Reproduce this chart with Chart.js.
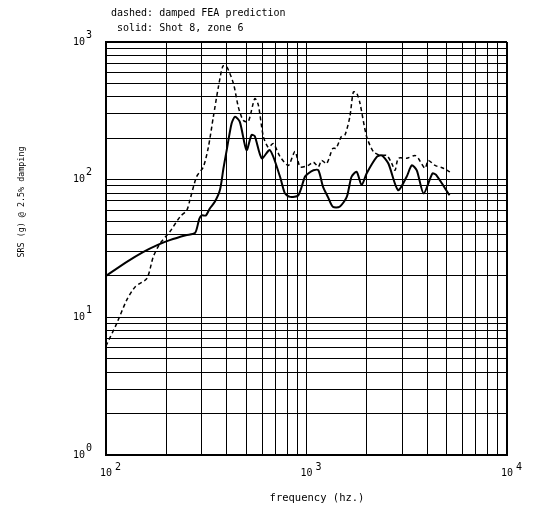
<!DOCTYPE html>
<html>
<head>
<meta charset="utf-8">
<script src="https://cdn.jsdelivr.net/npm/chart.js@4.4.0/dist/chart.umd.min.js"></script>
<style>
  html, body { margin: 0; padding: 0; background: #fff; }
  #wrap { width: 533px; height: 506px; position: relative; }
</style>
</head>
<body>
<div id="wrap"><canvas id="srsChart"></canvas></div>
<script>
// ====== data (frequency in Hz, SRS in g) ======
const SOLID_FREQ = [100, 127, 153, 180, 208, 250, 278, 292, 300, 315, 330, 349, 370, 385, 400, 423, 440, 465, 502, 532, 552, 598, 657, 738, 781, 829, 910, 982, 1020, 1083, 1146, 1208, 1278, 1353, 1463, 1588, 1677, 1778, 1884, 1994, 2247, 2376, 2561, 2860, 3158, 3349, 3548, 3838, 4246, 4420, 5170];
const SOLID_SRS  = [20, 25.3, 29.8, 33.5, 36.4, 39.5, 41, 52, 55, 55, 62, 69, 84, 120, 164, 256, 286, 263, 164, 211, 207, 143, 164, 105, 79.5, 75, 77, 105, 111, 117, 117, 89, 75, 63.6, 63.6, 75, 105, 114, 91.5, 111, 147, 150, 131, 84, 105, 127, 117, 79.5, 111, 108.6, 77];

const DASHED_FREQ = [100, 113, 127, 140, 160, 172, 186, 208, 234, 253, 262, 283, 306, 324, 343, 364, 383, 400, 432, 457, 483, 512, 552, 575, 609, 645, 683, 738, 812, 876, 930, 1020, 1083, 1146, 1190, 1260, 1353, 1405, 1494, 1555, 1645, 1713, 1778, 1848, 1994, 2154, 2327, 2515, 2664, 2765, 2872, 3158, 3474, 3608, 3899, 4052, 4375, 4812, 5190];
const DASHED_SRS  = [6.2, 9.0, 13.4, 16.7, 19.2, 27.5, 34.4, 41.8, 53.8, 60, 71, 105, 124, 172, 286, 476, 670, 661, 500, 338, 270, 263, 388, 349, 206, 172, 183, 147, 127, 160, 124, 127, 134, 124, 138, 131, 169, 169, 206, 211, 286, 434, 427, 359, 206, 160, 150, 150, 131, 117, 143, 143, 150, 143, 121, 138, 127, 121, 114];

// grid lines and tick labels (base "10" plus exponent)
const X_GRID = [100, 200, 300, 400, 500, 600, 700, 800, 900, 1000, 2000, 3000, 4000, 5000, 6000, 7000, 8000, 9000, 10000];
const Y_GRID = [1, 2, 3, 4, 5, 6, 7, 8, 9, 10, 20, 30, 40, 50, 60, 70, 80, 90, 100, 200, 300, 400, 500, 600, 700, 800, 900, 1000];
const X_EXP = { 100: '2', 1000: '3', 10000: '4' };
const Y_EXP = { 1: '0', 10: '1', 100: '2', 1000: '3' };

const LEGEND_LINES = ['dashed: damped FEA prediction', ' solid: Shot 8, zone 6'];
const X_TITLE = 'frequency (hz.)';
const Y_TITLE = 'SRS (g) @ 2.5% damping';

const FONT = '"DejaVu Sans Mono", "Liberation Mono", monospace';

// ====== text outside the axes + exponents of the tick labels ======
const textPlugin = {
  id: 'extraText',
  afterDraw(chart) {
    const { ctx } = chart;
    const xs = chart.scales.x;
    const ys = chart.scales.y;
    ctx.save();
    ctx.fillStyle = '#000';
    ctx.font = '10px ' + FONT;
    ctx.textBaseline = 'middle';

    // exponents
    ctx.textAlign = 'left';
    Object.keys(X_EXP).forEach(v => {
      const px = xs.getPixelForValue(Number(v));
      ctx.fillText(X_EXP[v], px + 9, xs.top + 12);
    });
    Object.keys(Y_EXP).forEach(v => {
      const py = ys.getPixelForValue(Number(v));
      ctx.fillText(Y_EXP[v], ys.right - 20, py - 7);
    });

    // header lines
    ctx.fillText(LEGEND_LINES[0], 111, 13);
    ctx.fillText(LEGEND_LINES[1], 111, 28);

    // x title
    ctx.textAlign = 'center';
    ctx.font = '10.5px ' + FONT;
    ctx.fillText(X_TITLE, 317, 498);

    // y title
    ctx.translate(22, 202);
    ctx.rotate(-Math.PI / 2);
    ctx.font = '8.4px ' + FONT;
    ctx.fillText(Y_TITLE, 0, 0);
    ctx.restore();
  }
};

const edgeWidth = (c, last) => (c.index === 0 || c.index === last) ? 2 : 1;

new Chart(document.getElementById('srsChart'), {
  type: 'line',
  data: {
    datasets: [
      {
        label: 'dashed',
        data: DASHED_FREQ.map((f, i) => ({ x: f, y: DASHED_SRS[i] })),
        borderColor: '#000',
        borderWidth: 1.5,
        borderDash: [4, 3],
        pointRadius: 0,
        tension: 0.25,
        fill: false
      },
      {
        label: 'solid',
        data: SOLID_FREQ.map((f, i) => ({ x: f, y: SOLID_SRS[i] })),
        borderColor: '#000',
        borderWidth: 2,
        pointRadius: 0,
        tension: 0.25,
        fill: false
      }
    ]
  },
  options: {
    responsive: true,
    maintainAspectRatio: false,
    animation: false,
    devicePixelRatio: 1,
    layout: { padding: { top: 42, right: 26, left: 0, bottom: 0 } },
    plugins: {
      legend: { display: false },
      tooltip: { enabled: false }
    },
    scales: {
      x: {
        type: 'logarithmic',
        min: 100,
        max: 10000,
        afterBuildTicks: s => { s.ticks = X_GRID.map(v => ({ value: v })); },
        afterFit: s => { s.height = 51; },
        grid: {
          color: '#000',
          lineWidth: c => edgeWidth(c, X_GRID.length - 1),
          drawTicks: false
        },
        border: { display: true, color: '#000', width: 2 },
        ticks: {
          autoSkip: false,
          maxRotation: 0,
          padding: 12,
          color: '#000',
          font: { family: FONT, size: 10 },
          callback: v => (X_EXP[v] ? '10' : '')
        }
      },
      y: {
        type: 'logarithmic',
        min: 1,
        max: 1000,
        afterBuildTicks: s => { s.ticks = Y_GRID.map(v => ({ value: v })); },
        afterFit: s => { s.width = 106; },
        grid: {
          color: '#000',
          lineWidth: c => edgeWidth(c, Y_GRID.length - 1),
          drawTicks: false
        },
        border: { display: true, color: '#000', width: 2 },
        ticks: {
          autoSkip: false,
          padding: 21,
          color: '#000',
          font: { family: FONT, size: 10 },
          callback: v => (Y_EXP[v] ? '10' : '')
        }
      }
    }
  },
  plugins: [textPlugin]
});
</script>
</body>
</html>
